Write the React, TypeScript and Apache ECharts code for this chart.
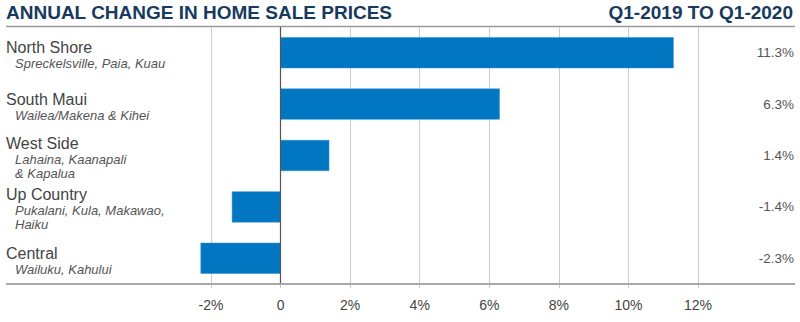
import React, { useEffect, useRef } from "react";
import * as echarts from "echarts";

const categories = ["North Shore", "South Maui", "West Side", "Up Country", "Central"];
const subLabels = [
  "Spreckelsville, Paia, Kuau",
  "Wailea/Makena & Kihei",
  "Lahaina, Kaanapali\n& Kapalua",
  "Pukalani, Kula, Makawao,\nHaiku",
  "Wailuku, Kahului",
];
const values = [11.3, 6.3, 1.4, -1.4, -2.3];
const titleLeft = "ANNUAL CHANGE IN HOME SALE PRICES";
const titleRight = "Q1-2019 TO Q1-2020";

const FONT = "'Liberation Sans', Arial, sans-serif";

export default function App() {
  const ref = useRef<HTMLDivElement>(null);
  useEffect(() => {
    if (!ref.current) return;
    const chart = echarts.init(ref.current, null, { renderer: "svg" });
    const gridTop = 27;
    const gridBottom = 38;
    chart.setOption({
      animation: false,
      backgroundColor: "#ffffff",
      textStyle: { fontFamily: FONT },
      grid: { left: 211, right: 102, top: gridTop, bottom: gridBottom, containLabel: false },
      xAxis: {
        type: "value",
        min: -2,
        max: 12,
        interval: 2,
        axisLine: { show: false },
        axisTick: { show: true, length: 4, lineStyle: { color: "#c8c8c8" } },
        splitLine: { show: true, lineStyle: { color: "#cccccc", width: 1 } },
        axisLabel: {
          color: "#444",
          fontSize: 14,
          fontFamily: FONT,
          margin: 14,
          formatter: (v: number) => (v === 0 ? "0" : v + "%"),
        },
      },
      yAxis: [
        {
          type: "category",
          inverse: true,
          data: categories,
          axisLine: { show: false, onZero: false },
          axisTick: { show: false },
          splitLine: { show: false },
          axisLabel: {
            align: "left",
            margin: 205,
            padding: [4, 0, 0, 0],
            formatter: (v: string, i: number) => {
              const subs = subLabels[i].split("\n").map((s) => `{sub|${s}}`).join("\n");
              return `{name|${v}}\n${subs}`;
            },
            rich: {
              name: { fontSize: 16, color: "#444", fontFamily: FONT, lineHeight: 18 },
              sub: {
                fontSize: 13,
                fontStyle: "italic",
                color: "#555",
                fontFamily: FONT,
                lineHeight: 14,
                padding: [0, 0, 0, 9],
              },
            },
          },
        },
        {
          type: "category",
          inverse: true,
          position: "right",
          data: categories,
          axisLine: { show: false, onZero: false },
          axisTick: { show: false },
          axisLabel: {
            align: "right",
            margin: 96,
            color: "#555",
            fontSize: 13.5,
            fontFamily: FONT,
            formatter: (_v: string, i: number) => values[i].toFixed(1) + "%",
          },
        },
      ],
      series: [
        {
          type: "bar",
          data: values,
          yAxisIndex: 0,
          barWidth: 31,
          clip: false,
          itemStyle: { color: "#0077c0", borderColor: "#2f8fd0", borderWidth: 0.5 },
          markLine: {
            silent: true,
            symbol: "none",
            label: { show: false },
            lineStyle: { color: "#555", type: "solid", width: 1.2 },
            data: [{ xAxis: 0 }],
          },
        },
      ],
      graphic: [
        {
          type: "text",
          x: 6,
          y: 3,
          style: {
            text: titleLeft,
            fill: "#173a5e",
            font: `bold 19px ${FONT}`,
          },
        },
        {
          type: "text",
          x: 793,
          y: 3,
          style: {
            text: titleRight,
            fill: "#173a5e",
            align: "right",
            font: `bold 19px ${FONT}`,
          },
        },
        {
          type: "line",
          shape: { x1: 6, y1: 26.5, x2: 795, y2: 26.5 },
          style: { stroke: "#9a9a9a", lineWidth: 1.5 },
        },
        {
          type: "line",
          shape: { x1: 6, y1: 284, x2: 795, y2: 284 },
          style: { stroke: "#a8a8a8", lineWidth: 2 },
          z: 10,
        },
      ],
    });
    return () => chart.dispose();
  }, []);
  return <div ref={ref} style={{ width: 800, height: 322, position: "fixed", left: 0, top: 0 }} />;
}
